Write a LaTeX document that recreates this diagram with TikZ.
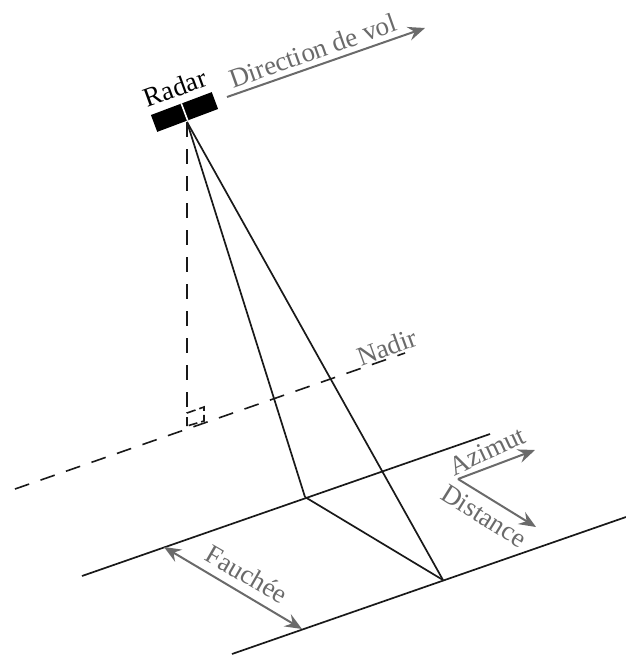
\documentclass[tikz,border=0pt]{standalone}
\usepackage{fontspec}
\setmainfont{Liberation Serif}
\usepackage{tikz}
\usetikzlibrary{arrows.meta,positioning,calc}
\definecolor{graylabel}{HTML}{6A6A6A}
\tikzset{
  ground/.style={line width=1.7pt,black!90},
  sight/.style={line width=1.7pt,black!90},
  guide/.style={line width=1.6pt,black!90,dash pattern=on 15pt off 12pt},
  axis/.style={line width=2pt,graylabel,-{Stealth[length=17pt,width=14pt,inset=6pt]}},
  span/.style={line width=2pt,graylabel,{Stealth[length=17pt,width=14pt,inset=6pt]}-{Stealth[length=17pt,width=14pt,inset=6pt]}},
  lbl/.style={text=graylabel,font=\fontsize{27}{27}\selectfont,inner sep=0pt}
}
\begin{document}
\begin{tikzpicture}[x=1pt,y=-1pt]
  \useasboundingbox (0,0) rectangle (626,656);
  % radar
  \node[fill=black,minimum width=65pt,minimum height=18pt,inner sep=0pt,rotate=20.6] (radar) at (184.5,112) {};
  \node[inner sep=0pt,rotate=20,font=\fontsize{27}{27}\selectfont] (radarlabel) at (175,88) {Radar};
  \draw[white,line width=1.6pt] (radar.north)--(radar.south);
  % points on the ground
  \coordinate (apex) at (187,122);
  \coordinate (near) at (305,497);
  \coordinate (far) at (443,580);
  \coordinate (foot) at (187,426);
  \coordinate (nadirA) at (15,489);
  \coordinate (nadirB) at (405,353);
  \coordinate (nearA) at (82,576);
  \coordinate (nearB) at (490,434);
  \coordinate (farA) at (232,654);
  \coordinate (farB) at (626,517);
  \draw[sight] (apex)--(near);
  \draw[sight] (apex)--(far);
  \draw[sight] (near)--(far);
  \draw[ground] (nearA)--(nearB);
  \draw[ground] (farA)--(farB);
  \draw[guide] (apex)--(foot);
  \draw[guide] (nadirA)--(nadirB);
  \draw[line width=1.6pt,black!90,dash pattern=on 9pt off 4pt] (187,426)--(187,413)--(204,407)--(204,421)--cycle;
  % arrows
  \coordinate (volA) at (227,97);
  \coordinate (volB) at (425,28);
  \coordinate (origin) at (458,479);
  \coordinate (azB) at (535,450);
  \coordinate (distB) at (536,527);
  \coordinate (swathA) at (164,547);
  \coordinate (swathB) at (302,629);
  \draw[axis] (volA)--(volB);
  \draw[axis] (origin)--(azB);
  \draw[axis] (origin)--(distB);
  \draw[span] (swathA)--(swathB);
  % labels
  \node[lbl,rotate=19.5] (vol) at (313,51) {Direction de vol};
  \node[lbl,rotate=20] (nadir) at (387,347) {Nadir};
  \node[lbl,rotate=25] (azimut) at (487,451) {Azimut};
  \node[lbl,rotate=-32] (distance) at (484,516) {Distance};
  \node[lbl,rotate=-30] (fauchee) at (247,574) {Fauchée};
\end{tikzpicture}
\end{document}
